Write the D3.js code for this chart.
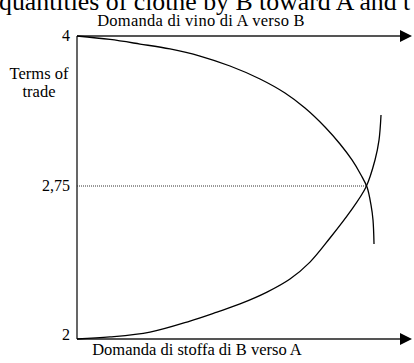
<!DOCTYPE html>
<html>
<head>
<meta charset="utf-8">
<script src="https://cdn.jsdelivr.net/npm/d3@7"></script>
<style>
  html, body { margin: 0; padding: 0; background: #fff; }
  svg { display: block; }
  text { font-family: "Liberation Serif", "Times New Roman", serif; fill: #000; }
</style>
</head>
<body>
<svg id="chart" width="414" height="363"></svg>
<script>
// Terms of trade levels marked on the vertical axis
const tickValues = [2, 2.75, 4];
const tickLabels = ["2", "2,75", "4"];
const equilibrium = 2.75;

// Offer curve of A (demand for wine): quantity vs terms of trade
const offerAQty = [0, 9.85, 18.81, 27.76, 36.72, 45.67, 54.63, 62.09, 68.06, 74.03, 78.51, 82.09, 84.78, 86.57, 87.76, 88.36, 88.66];
const offerATot = [4, 3.971, 3.933, 3.892, 3.833, 3.75, 3.642, 3.525, 3.4, 3.242, 3.1, 2.967, 2.842, 2.745, 2.657, 2.583, 2.466];

// Offer curve of B (demand for cloth)
const offerBQty = [0, 9.85, 21.79, 33.73, 41.79, 48.66, 56.72, 63.58, 69.55, 75.52, 81.49, 86.27, 88.96, 90.15, 90.75];
const offerBTot = [2, 2.01, 2.034, 2.088, 2.132, 2.172, 2.23, 2.294, 2.377, 2.495, 2.623, 2.745, 2.967, 3.133, 3.342];

const equilibriumQty = 86.3;

const headerText = "quantities of clothe by B toward A and t";
const topAxisLabel = "Domanda di vino di A verso B";
const bottomAxisLabel = "Domanda di stoffa di B verso A";
const yTitle = ["Terms of", "trade"];

const svg = d3.select("#chart");

const x = d3.scaleLinear().domain([0, 100]).range([77, 412]);
// schematic vertical axis: the marked levels are spaced for readability
const y = d3.scaleLinear().domain([2, 2.75, 4]).range([339, 186, 36]);

// header line running off the top edge
svg.append("text")
  .attr("x", -1).attr("y", 10)
  .attr("font-size", 25.8)
  .text(headerText);

// horizontal arrows (top at 4, bottom at 2)
const headLen = 12, headHalf = 6;
[4, 2].forEach(v => {
  const yy = y(v);
  svg.append("line")
    .attr("x1", x(0)).attr("x2", x(100) - headLen + 1)
    .attr("y1", yy).attr("y2", yy)
    .attr("stroke", "#555").attr("stroke-width", 2);
  svg.append("path")
    .attr("d", `M${x(100) - headLen},${yy - headHalf}L${x(100)},${yy}L${x(100) - headLen},${yy + headHalf}Z`)
    .attr("fill", "#000");
});

// vertical axis
svg.append("line")
  .attr("x1", x(0)).attr("x2", x(0))
  .attr("y1", y(4)).attr("y2", y(2))
  .attr("stroke", "#000").attr("stroke-width", 1.2);

// tick labels
svg.selectAll("text.tick")
  .data(tickValues)
  .join("text")
  .attr("class", "tick")
  .attr("x", 70)
  .attr("y", d => y(d))
  .attr("dy", d => d === 2 ? "0.08em" : "0.3em")
  .attr("text-anchor", "end")
  .attr("font-size", 16)
  .text((d, i) => tickLabels[i]);

// axis title
svg.append("text")
  .attr("x", 39).attr("y", 79)
  .attr("text-anchor", "middle")
  .attr("font-size", 16.5)
  .selectAll("tspan")
  .data(yTitle)
  .join("tspan")
  .attr("x", 39)
  .attr("dy", (d, i) => i === 0 ? 0 : 18)
  .text(d => d);

// axis captions
svg.append("text")
  .attr("x", 201).attr("y", 26)
  .attr("text-anchor", "middle")
  .attr("font-size", 16.5)
  .attr("letter-spacing", 0.25)
  .text(topAxisLabel);

svg.append("text")
  .attr("x", 197).attr("y", 355)
  .attr("text-anchor", "middle")
  .attr("font-size", 16.5)
  .text(bottomAxisLabel);

// dotted equilibrium line
svg.append("line")
  .attr("x1", x(0)).attr("x2", x(equilibriumQty))
  .attr("y1", y(equilibrium)).attr("y2", y(equilibrium))
  .attr("stroke", "#333").attr("stroke-width", 1)
  .attr("stroke-dasharray", "1,1");

// offer curves
const line = d3.line()
  .x(d => x(d[0]))
  .y(d => y(d[1]))
  .curve(d3.curveCatmullRom.alpha(0.5));

svg.append("path")
  .datum(d3.zip(offerAQty, offerATot))
  .attr("d", line)
  .attr("fill", "none")
  .attr("stroke", "#000")
  .attr("stroke-width", 1.3);

svg.append("path")
  .datum(d3.zip(offerBQty, offerBTot))
  .attr("d", line)
  .attr("fill", "none")
  .attr("stroke", "#000")
  .attr("stroke-width", 1.3);
</script>
</body>
</html>
